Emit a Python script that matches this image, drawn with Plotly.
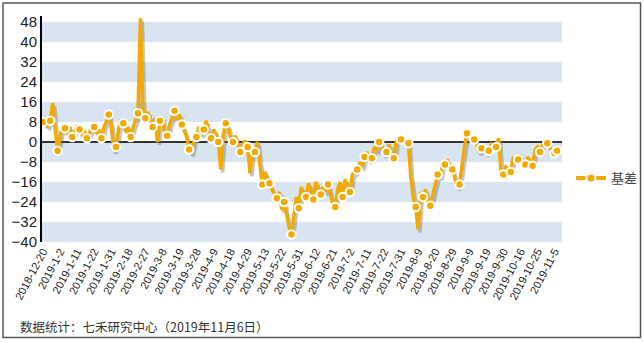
import plotly.graph_objects as go

# ---------------- data ----------------
tick_labels = [
    "2018-12-20", "2019-1-2", "2019-1-11", "2019-1-22", "2019-1-31", "2019-2-18",
    "2019-2-27", "2019-3-8", "2019-3-19", "2019-3-28", "2019-4-9", "2019-4-18",
    "2019-4-29", "2019-5-13", "2019-5-22", "2019-5-31", "2019-6-12", "2019-6-21",
    "2019-7-2", "2019-7-11", "2019-7-22", "2019-7-31", "2019-8-9", "2019-8-20",
    "2019-8-29", "2019-9-9", "2019-9-19", "2019-9-30", "2019-10-16", "2019-10-25",
    "2019-11-5",
]
label_step = 7          # one label every 7 trading days
marker_step = 3         # a marker drawn on every 3rd trading day

basis = [
    8, 7, 6.5, 8.5, 15.5, 5, -3.5, 2, 6.5, 5.5,
    3, 6, 2, 4, 6.5, 5, 3, 4, 1.5, 3,
    7, 6, 3.5, 5, 1.5, 6, 8, 11, 7, -3.5,
    -2, 5, 9, 7.5, 4, 6, 2, 6, 9, 11.5,
    49.5, 13, 9.5, 12, 8, 6, 9.5, 0, 8.5, 10,
    4, 2.5, 7, 10, 12.5, 9, 11, 7, 4, 2,
    -3, -4.5, 1, 2, 6, 3, 5, 8.5, 3, 1.5,
    5, 3, 0, -11, 3, 7.5, 6, 2, 0, 2.5,
    -1, -4, -1, 0.5, -2, -12.5, -3, -4, 0, -9,
    -17, -12, -14, -16.5, -19, -21, -22.5, -20, -27, -24,
    -30, -34, -37, -28, -22, -26.5, -18, -21, -22, -16.5,
    -20, -23, -16, -19, -21, -18, -20, -17, -21, -25,
    -26, -19, -16, -22, -15, -18, -20, -13, -12, -11,
    -8, -10, -6, -4, -7, -6.5, -2, -3, 0, -1.5,
    -5, -4, -1, -5, -6.5, 0, 1.5, 1, 0.5, 0,
    -0.5, -14, -22, -26, -35, -20, -22, -19, -24, -25.5,
    -21, -16, -13, -14, -9, -9, -7, -10, -11, -14,
    -18, -17, -9, -2, 3.5, 2, 1, 1, -1, -4,
    -2.5, -3, -4, -3.5, -1, -2, -2, 1.5, -12, -13,
    -10, -11, -12, -6, -7, -7, -6, -9, -9, -6,
    -8, -9.5, -3, -2, -4, -1, 0, -0.5, -2, -4,
    -4.5, -3.5,
]
series_name = "基差"
y_ticks = [-40, -32, -24, -16, -8, 0, 8, 16, 24, 32, 40, 48]
footnote = "数据统计：七禾研究中心（2019年11月6日）"

# ---------------- derived ----------------
x_idx = list(range(len(basis)))
tick_vals = [i * label_step for i in range(len(tick_labels))]
mk_idx = [i for i in x_idx if i % marker_step == 0 or i == len(basis) - 1]
mk_val = [basis[i] for i in mk_idx]

LINE = "#F4A900"
BAND = "#D8E4F0"

W, H = 644, 343
PW, PH = 520, 226          # plot area in px (x 42..562, y 16..242)
x_range = [-0.4, len(basis) + 1.05]
y_range = [y_ticks[0], 50.4]
# shadow offset (in data units): ~2px right, ~3px down
sx = 2 / (PW / (x_range[1] - x_range[0]))
sy = 3 / (PH / (y_range[1] - y_range[0]))


def px_x(px):
    return (px - 42) / PW


def px_y(py):
    return (242 - py) / PH


fig = go.Figure()

# drop shadow of the line (drawn on base axes with shifted range)
fig.add_trace(go.Scatter(
    x=x_idx, y=basis, mode="lines", xaxis="x", yaxis="y",
    line=dict(color="rgba(110,110,110,0.40)", width=3.5),
    hoverinfo="skip", showlegend=False,
))
# main line
fig.add_trace(go.Scatter(
    x=x_idx, y=basis, mode="lines", xaxis="x2", yaxis="y2",
    line=dict(color=LINE, width=3.5), name=series_name,
    showlegend=False,
))
# markers
fig.add_trace(go.Scatter(
    x=mk_idx, y=mk_val, mode="markers", xaxis="x2", yaxis="y2",
    marker=dict(color=LINE, size=8.5, line=dict(color="white", width=2)),
    name=series_name, showlegend=False,
))
# legend proxy
fig.add_trace(go.Scatter(
    x=[None], y=[None], mode="lines+markers", xaxis="x2", yaxis="y2",
    line=dict(color=LINE, width=4),
    marker=dict(color=LINE, size=9, line=dict(color="white", width=2)),
    name=series_name, showlegend=True,
))

shapes = []
for v in range(y_ticks[0], y_ticks[-1], 16):
    shapes.append(dict(type="rect", xref="paper", yref="y2", x0=0, x1=1,
                       y0=v, y1=v + 8, fillcolor=BAND, line=dict(width=0),
                       layer="below"))
# outer frame
shapes.append(dict(type="rect", xref="paper", yref="paper",
                   x0=px_x(3), x1=px_x(640.5), y0=px_y(337.5), y1=px_y(3),
                   line=dict(color="#555555", width=1.5), layer="above"))

fig.update_layout(
    width=W, height=H,
    margin=dict(l=42, r=W - 42 - PW, t=16, b=H - 242, autoexpand=False),
    paper_bgcolor="white", plot_bgcolor="rgba(0,0,0,0)",
    font=dict(family="Liberation Sans, Arial, Noto Sans CJK SC", color="#222222"),
    xaxis=dict(range=[x_range[0] - sx, x_range[1] - sx], visible=False,
               showgrid=False, zeroline=False, fixedrange=True),
    yaxis=dict(range=[y_range[0] + sy, y_range[1] + sy], visible=False,
               showgrid=False, zeroline=False, fixedrange=True),
    xaxis2=dict(overlaying="x", anchor="y2", side="bottom", range=x_range,
                tickmode="array", tickvals=tick_vals, ticktext=tick_labels,
                tickangle=-62, tickfont=dict(size=11, color="#222222"),
                showgrid=False, zeroline=False, showline=False, ticks=""),
    yaxis2=dict(overlaying="y", side="left", range=y_range,
                tickmode="array", tickvals=y_ticks,
                tickfont=dict(size=15, color="#222222"),
                showgrid=False, showline=True, linecolor="black", linewidth=2,
                zeroline=True, zerolinecolor="#333333", zerolinewidth=1.5,
                ticks=""),
    legend=dict(xref="container", yref="container",
                x=643 / W, y=1 - 178 / H, xanchor="right", yanchor="middle",
                font=dict(size=13, color="#444444",
                          family="Noto Sans CJK SC"),
                bgcolor="rgba(0,0,0,0)", borderwidth=0),
    shapes=shapes,
    annotations=[dict(
        text=footnote, xref="paper", yref="paper", x=px_x(18), y=px_y(326),
        xanchor="left", yanchor="middle", showarrow=False,
        font=dict(size=12.5, color="#333333", family="Noto Sans CJK SC"),
    )],
)

fig.write_html("out.html")
